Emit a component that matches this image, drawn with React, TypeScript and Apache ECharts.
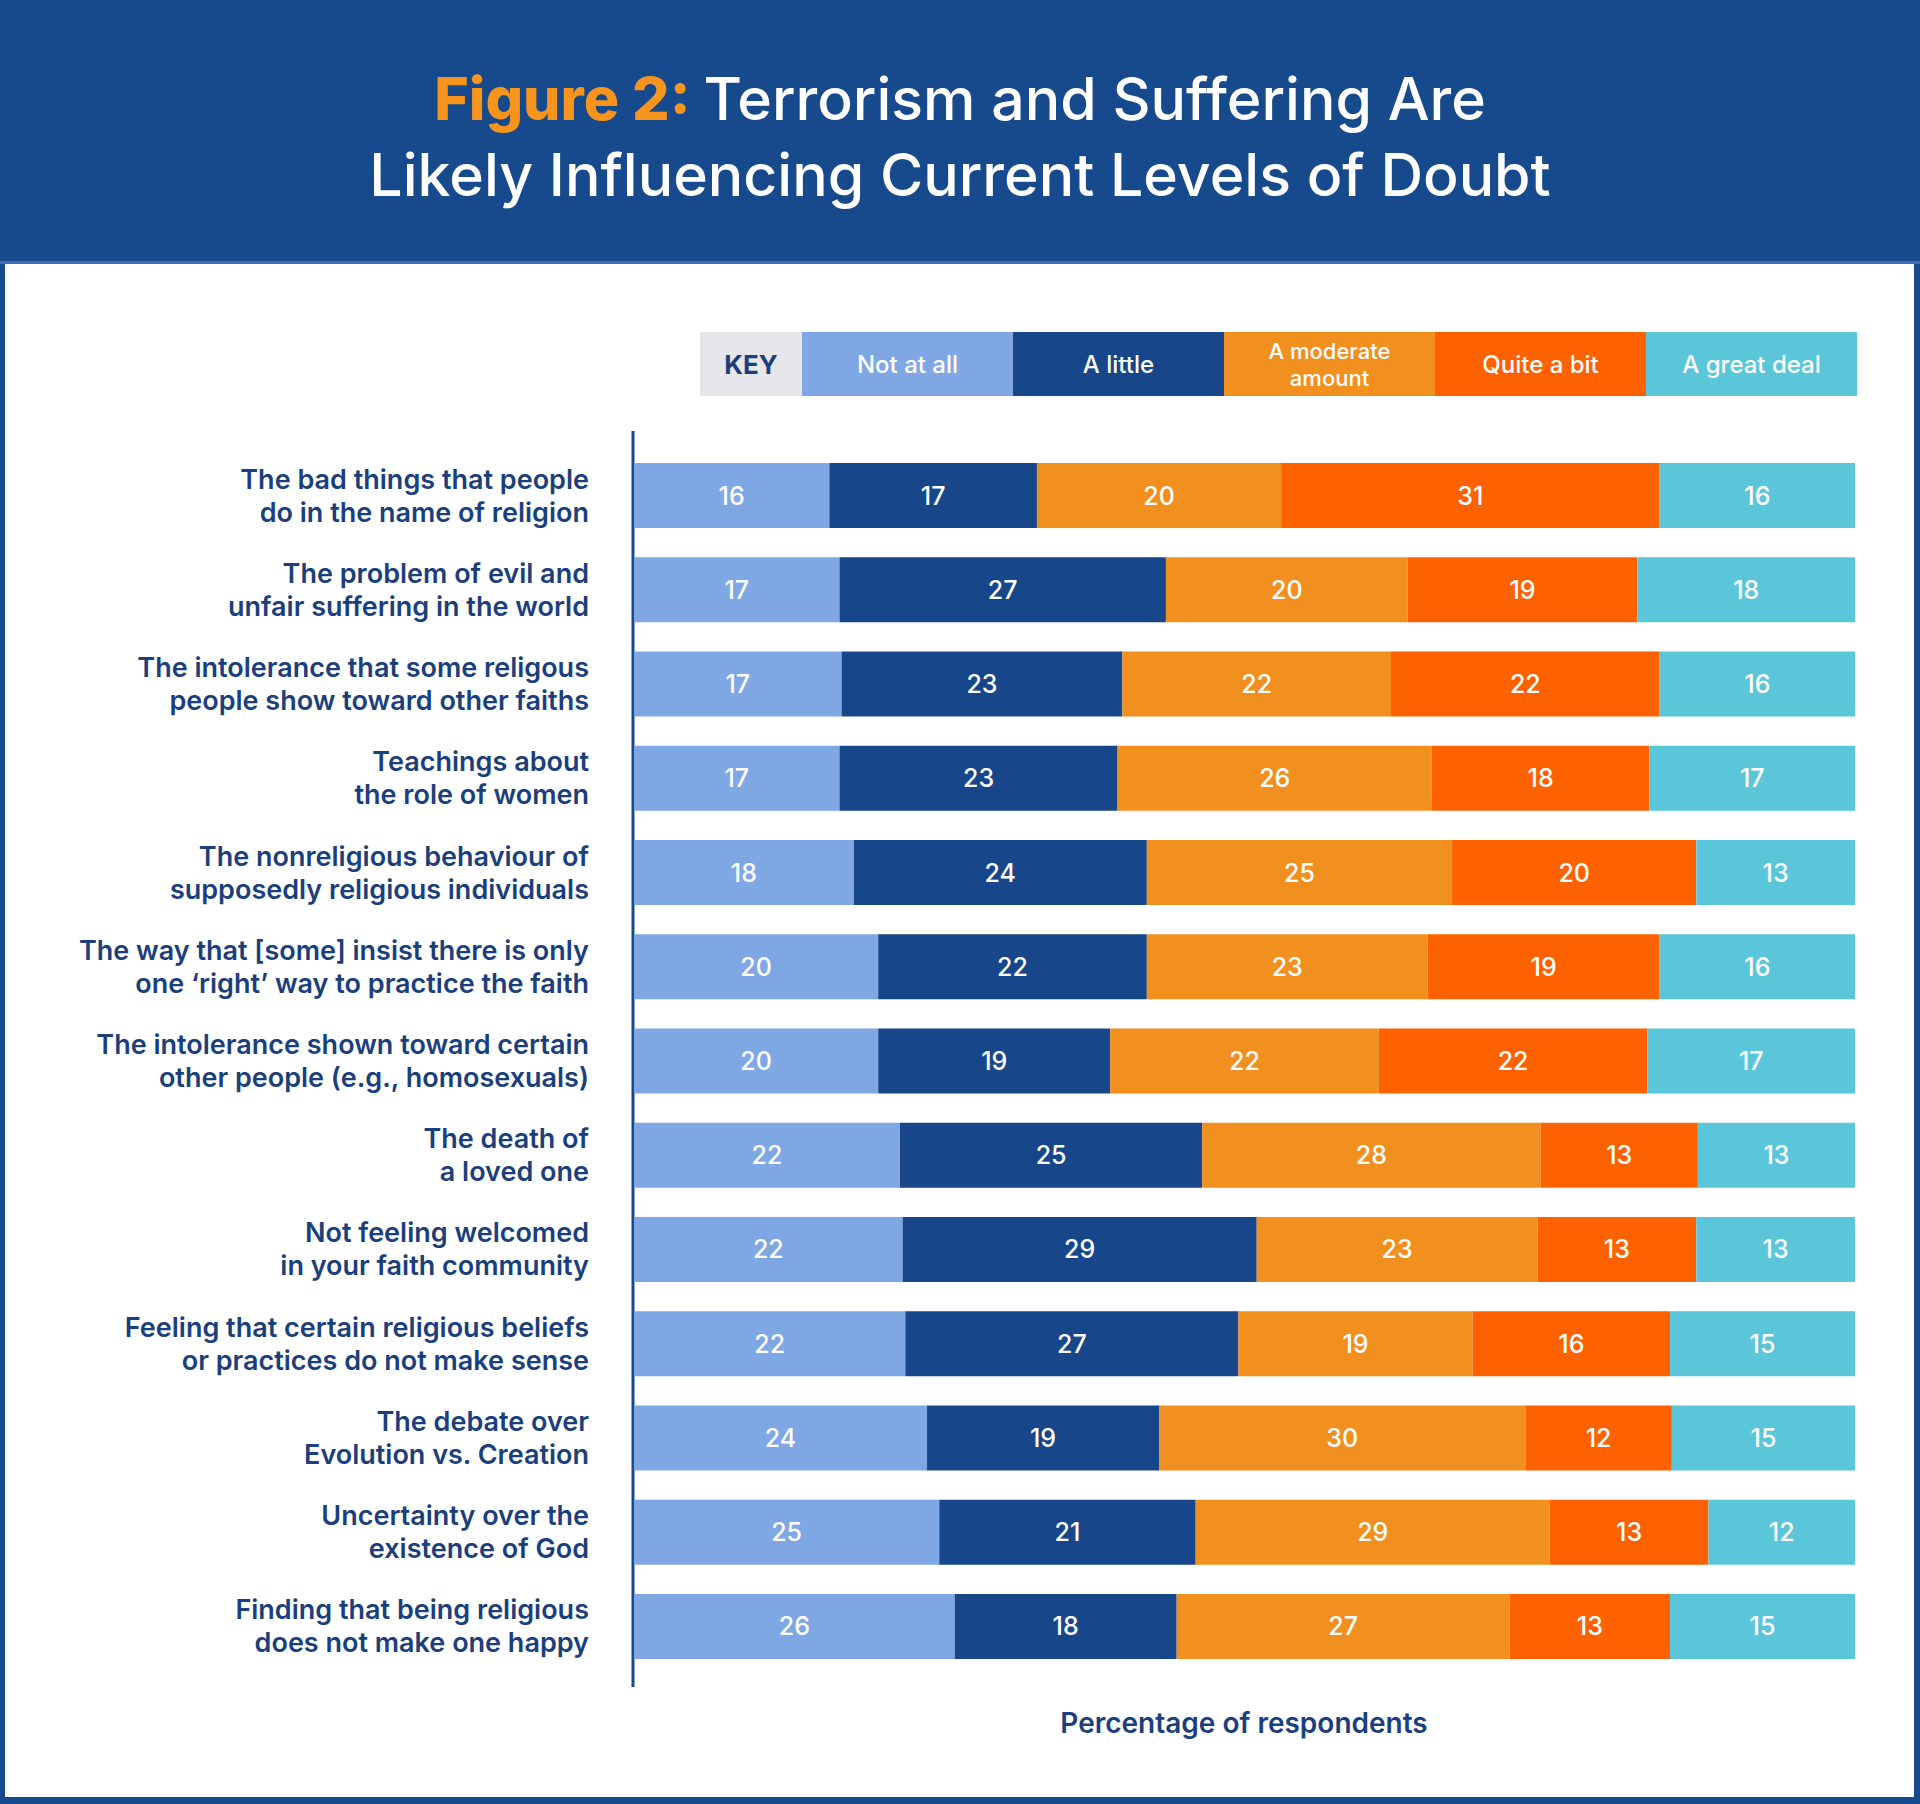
import React, { useEffect, useRef } from "react";
import * as echarts from "echarts";

const categories = [
  "The bad things that people\ndo in the name of religion",
  "The problem of evil and\nunfair suffering in the world",
  "The intolerance that some religous\npeople show toward other faiths",
  "Teachings about\nthe role of women",
  "The nonreligious behaviour of\nsupposedly religious individuals",
  "The way that [some] insist there is only\none \u2018right\u2019 way to practice the faith",
  "The intolerance shown toward certain\nother people (e.g., homosexuals)",
  "The death of\na loved one",
  "Not feeling welcomed\nin your faith community",
  "Feeling that certain religious beliefs\nor practices do not make sense",
  "The debate over\nEvolution vs. Creation",
  "Uncertainty over the\nexistence of God",
  "Finding that being religious\ndoes not make one happy",
];

const notAtAll = [16, 17, 17, 17, 18, 20, 20, 22, 22, 22, 24, 25, 26];
const aLittle = [17, 27, 23, 23, 24, 22, 19, 25, 29, 27, 19, 21, 18];
const moderate = [20, 20, 22, 26, 25, 23, 22, 28, 23, 19, 30, 29, 27];
const quiteABit = [31, 19, 22, 18, 20, 19, 22, 13, 13, 16, 12, 13, 13];
const greatDeal = [16, 18, 16, 17, 13, 16, 17, 13, 13, 15, 15, 12, 15];

const seriesNames = ["Not at all", "A little", "A moderate\namount", "Quite a bit", "A great deal"];
const seriesValues = [notAtAll, aLittle, moderate, quiteABit, greatDeal];
const seriesColors = ["#7ea7e4", "#17468a", "#f18f1f", "#fe6200", "#5bc5da"];

const titleHighlight = "Figure 2:";
const titleLine1 = "Terrorism and Suffering Are";
const titleLine2 = "Likely Influencing Current Levels of Doubt";
const axisName = "Percentage of respondents";

const FONT = "Inter, 'Open Sans', sans-serif";
const NAVY = "#174a8c";
const TEXT_BLUE = "#1b3f7c";

export default function App() {
  const ref = useRef<HTMLDivElement>(null);

  useEffect(() => {
    document.body.style.margin = "0";
    if (!ref.current) return;
    const chart = echarts.init(ref.current, null, { renderer: "svg" });

    const totals = categories.map((_, i) =>
      seriesValues.reduce((s, arr) => s + arr[i], 0)
    );

    const legendX0 = 802;
    const legendW = 211;
    const legendY = 332;
    const legendH = 64;

    const graphic: any[] = [
      { type: "rect", z: -10, shape: { x: 0, y: 0, width: 1920, height: 1804 }, style: { fill: NAVY } },
      { type: "rect", z: -9, shape: { x: 5, y: 264, width: 1909, height: 1533 }, style: { fill: "#ffffff" } },
      { type: "rect", z: -9, shape: { x: 0, y: 261, width: 1920, height: 3 }, style: { fill: "#3f6fb0" } },
      {
        type: "text",
        x: 960,
        y: 60,
        style: {
          text: `{o|${titleHighlight} }{w|${titleLine1}}\n{w|${titleLine2}}`,
          align: "center",
          verticalAlign: "top",
          rich: {
            o: {
              fill: "#f7941d",
              fontFamily: FONT,
              fontSize: 59,
              fontWeight: 800,
              lineHeight: 76,
            },
            w: {
              fill: "#ffffff",
              fontFamily: FONT,
              fontSize: 59,
              fontWeight: 500,
              lineHeight: 76,
            },
          },
        },
      },
      {
        type: "rect",
        shape: { x: 700, y: legendY, width: legendX0 - 700, height: legendH },
        style: { fill: "#e6e7ea" },
      },
      {
        type: "text",
        x: 751,
        y: legendY + legendH / 2,
        style: {
          text: "KEY",
          fill: TEXT_BLUE,
          font: `700 26px ${FONT}`,
          align: "center",
          verticalAlign: "middle",
        },
      },
      {
        type: "line",
        shape: { x1: 633, y1: 431, x2: 633, y2: 1687 },
        style: { stroke: NAVY, lineWidth: 3 },
      },
      {
        type: "text",
        x: 1244,
        y: 1723,
        style: {
          text: axisName,
          fill: TEXT_BLUE,
          font: `600 28px ${FONT}`,
          align: "center",
          verticalAlign: "middle",
        },
      },
    ];

    seriesNames.forEach((name, i) => {
      const x = legendX0 + i * legendW;
      const twoLine = name.includes("\n");
      graphic.push({
        type: "rect",
        shape: { x, y: legendY, width: legendW, height: legendH },
        style: { fill: seriesColors[i] },
      });
      graphic.push({
        type: "text",
        x: x + legendW / 2,
        y: legendY + legendH / 2,
        style: {
          text: name,
          fill: "#ffffff",
          font: `500 ${twoLine ? 22 : 24}px ${FONT}`,
          lineHeight: twoLine ? 27 : 30,
          align: "center",
          verticalAlign: "middle",
        },
      });
    });

    const option: any = {
      animation: false,
      graphic,
      grid: {
        left: 634,
        right: 65,
        top: 448.4,
        bottom: 1804 - 1673.6,
        containLabel: false,
      },
      xAxis: {
        type: "value",
        min: 0,
        max: 100,
        show: false,
      },
      yAxis: {
        type: "category",
        data: categories,
        inverse: true,
        axisLine: { show: false },
        axisTick: { show: false },
        splitLine: { show: false },
        axisLabel: {
          margin: 45,
          color: TEXT_BLUE,
          fontFamily: FONT,
          fontSize: 27,
          fontWeight: 600,
          lineHeight: 33,
          align: "right",
        },
      },
      series: seriesNames.map((name, si) => ({
        name,
        type: "bar",
        stack: "total",
        barWidth: 65,
        itemStyle: { color: seriesColors[si] },
        label: {
          show: true,
          position: "inside",
          color: "#ffffff",
          fontFamily: FONT,
          fontSize: 25,
          fontWeight: 500,
          formatter: (p: any) => String(seriesValues[si][p.dataIndex]),
        },
        data: seriesValues[si].map((v, i) => (v / totals[i]) * 100),
      })),
    };

    chart.setOption(option);
    return () => chart.dispose();
  }, []);

  return <div ref={ref} style={{ width: 1920, height: 1804 }} />;
}
